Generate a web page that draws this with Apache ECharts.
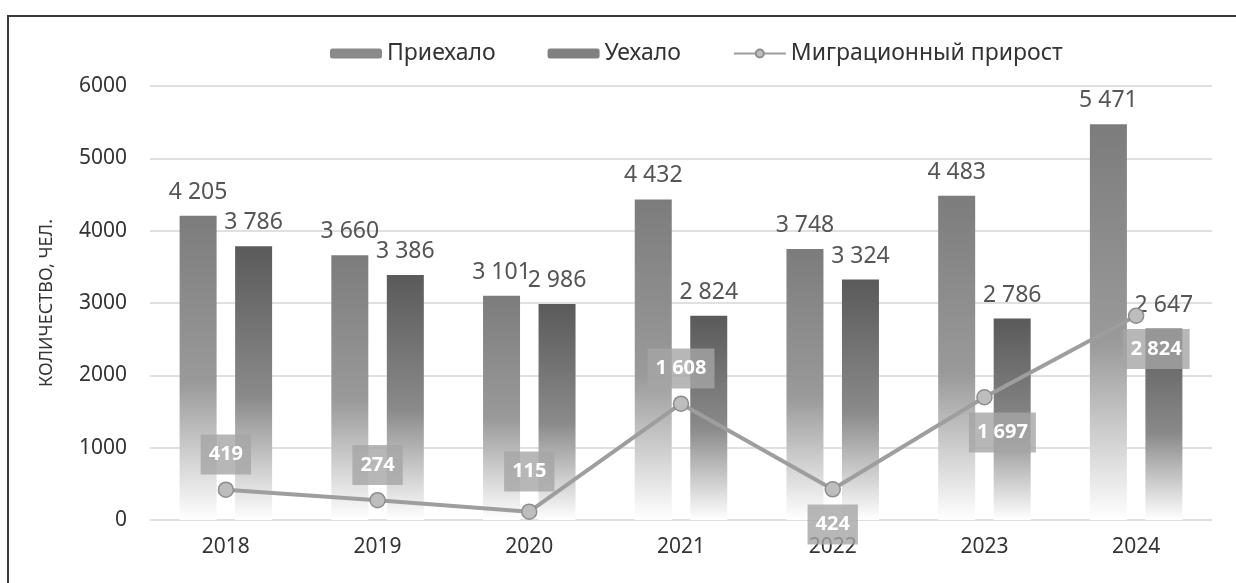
<!DOCTYPE html>
<html>
<head>
<meta charset="utf-8">
<script src="https://cdn.jsdelivr.net/npm/echarts@6/dist/echarts.min.js"></script>
<style>
  html, body { margin: 0; padding: 0; background: #fff; }
  #chart { width: 1236px; height: 583px; }
</style>
</head>
<body>
<div id="chart"></div>
<script>
const years = ['2018', '2019', '2020', '2021', '2022', '2023', '2024']
const arrived = [4205, 3660, 3101, 4432, 3748, 4483, 5471]
const departed = [3786, 3386, 2986, 2824, 3324, 2786, 2647]
const netMigration = [419, 274, 115, 1608, 424, 1697, 2824]
// where each growth label sits relative to its point
const netLabelPos = ['top', 'top', 'top', 'top', 'bottom', 'bottom', 'bottom']
const netLabelShift = [[0, 0], [0, 0], [0, -5], [0, 0], [0, 0], [18, 0], [20, -2]]

const fmt = v => String(v).replace(/\B(?=(\d{3})+(?!\d))/g, ' ')

const chart = echarts.init(document.getElementById('chart'))

function barGradient(top, mid) {
  return new echarts.graphic.LinearGradient(0, 0, 0, 1, [
    { offset: 0, color: top },
    { offset: 0.55, color: mid },
    { offset: 1, color: '#ffffff' }
  ])
}

const option = {
  animation: false,
  textStyle: { fontFamily: 'Noto Sans' },
  graphic: [{
    type: 'rect',
    shape: { x: 8, y: 16, width: 1260, height: 620 },
    style: { fill: 'none', stroke: '#3a3a3a', lineWidth: 2 }
  }],
  legend: {
    top: 37,
    left: 325,
    itemWidth: 52,
    itemHeight: 10,
    itemGap: 52,
    textStyle: { color: '#333', fontSize: 23 },
    data: [
      { name: 'Приехало', itemStyle: { color: '#8a8a8a' } },
      { name: 'Уехало', itemStyle: { color: '#808080' } },
      { name: 'Миграционный прирост' }
    ]
  },
  grid: { left: 150, right: 24, top: 86, bottom: 63 },
  xAxis: {
    type: 'category',
    data: years,
    axisLine: { show: false },
    axisTick: { show: false },
    axisLabel: { color: '#333', fontSize: 21, margin: 17 }
  },
  yAxis: {
    type: 'value',
    min: 0,
    max: 6000,
    interval: 1000,
    name: 'КОЛИЧЕСТВО, ЧЕЛ.',
    nameLocation: 'middle',
    nameGap: 94,
    nameTextStyle: { color: '#333', fontSize: 18 },
    axisLabel: { color: '#333', fontSize: 21, margin: 23, formatter: v => String(v) },
    splitLine: { lineStyle: { color: '#d6d6d6', width: 1.5 } }
  },
  series: [
    {
      name: 'Приехало',
      type: 'bar',
      data: arrived,
      barWidth: 37,
      barGap: '50%',
      itemStyle: { color: barGradient('#7c7c7c', '#9a9a9a') },
      label: {
        show: true, position: 'top', distance: 12,
        color: '#555', fontSize: 23,
        formatter: p => fmt(p.value)
      }
    },
    {
      name: 'Уехало',
      type: 'bar',
      data: departed,
      barWidth: 37,
      itemStyle: { color: barGradient('#5a5a5a', '#8a8a8a') },
      label: {
        show: true, position: 'top', distance: 12,
        color: '#555', fontSize: 23,
        formatter: p => fmt(p.value)
      }
    },
    {
      name: 'Миграционный прирост',
      type: 'line',
      data: netMigration.map((v, i) => ({
        value: v,
        label: { position: netLabelPos[i], offset: netLabelShift[i] }
      })),
      symbol: 'circle',
      symbolSize: 15,
      lineStyle: { color: '#9e9e9e', width: 4 },
      itemStyle: { color: '#bdbdbd', borderColor: '#8e8e8e', borderWidth: 1.5 },
      label: {
        show: true,
        distance: 7,
        color: '#fff',
        fontWeight: 'bold',
        fontSize: 20,
        backgroundColor: 'rgba(165,165,165,0.8)',
        padding: [10, 8],
        formatter: p => fmt(p.value)
      },
      z: 5
    }
  ]
}

chart.setOption(option)
</script>
</body>
</html>
